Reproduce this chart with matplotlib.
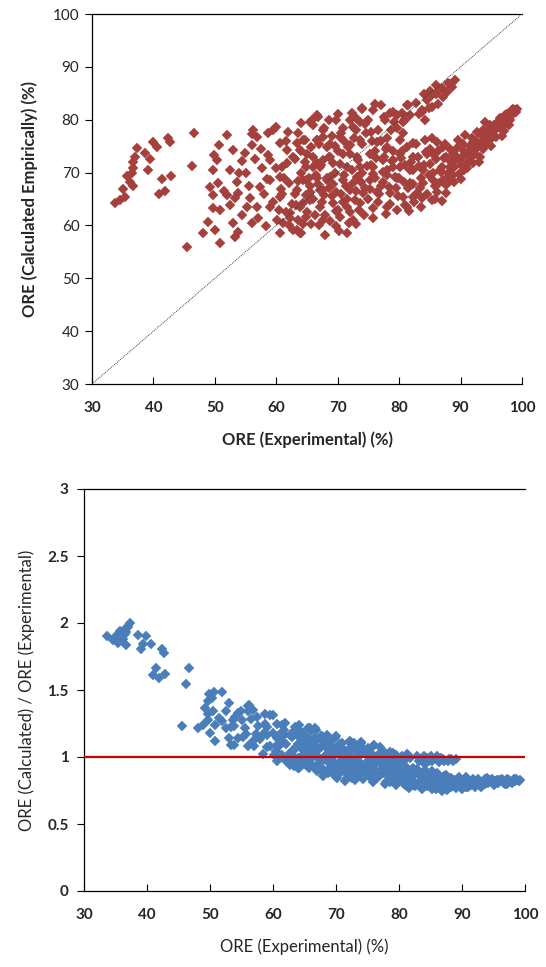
import matplotlib
matplotlib.use("Agg")
import matplotlib.pyplot as plt
import numpy as np

# ORE experimental (%) and ORE calculated empirically (%)
x_exp = [
    33.7, 34.6, 35.4, 35.1, 36.2, 35.7, 36.5, 36.7, 36.7, 37.0, 37.3, 36.7, 38.6, 39.4, 39.1,
    39.9, 40.6, 42.4, 42.7, 41.4, 42.9, 40.9, 41.9, 46.6, 46.2, 45.5,
    51.9, 50.6, 49.8, 50.3, 53.0, 49.7, 50.5, 49.2, 49.7, 53.6, 54.4, 56.0, 56.2, 56.8, 54.9,
    58.7, 60.0, 59.5, 61.9, 60.6, 58.7, 57.6, 59.0, 53.8, 53.3, 52.5, 49.7, 50.8, 48.9, 50.0,
    48.1, 50.8, 53.0, 54.4, 53.3, 53.8, 56.0, 56.8, 55.7, 57.3, 59.0, 60.6, 60.0, 61.7, 62.7,
    63.9, 64.7, 64.1, 65.8, 66.8, 67.6, 66.6, 63.3, 61.7, 60.6, 59.0, 60.1, 58.4, 60.6, 62.7,
    63.9, 62.2, 61.1, 63.9, 65.5, 67.1, 68.2, 64.9, 63.3, 66.0, 67.6, 68.2, 55.2, 51.9,
    66.6, 65.5, 72.3, 73.9, 69.8, 67.7, 70.9, 72.5, 75.5, 78.5, 77.7, 81.4, 83.7, 80.6, 79.6,
    64.4, 66.6, 70.4, 68.7, 72.0, 73.6, 76.4, 78.0, 80.1, 82.3, 84.2, 84.5, 82.3, 80.1, 79.0,
    77.4, 75.3, 73.1, 70.9, 68.7, 66.0, 64.9, 67.1, 69.2, 71.5, 73.6, 75.7, 78.0, 80.1, 82.3,
    83.9, 64.4, 66.6, 68.7, 70.9, 73.1, 75.3, 77.4, 79.6, 81.8, 83.9, 65.5, 67.6, 69.8, 72.0,
    74.1, 76.4, 78.5, 80.6, 82.9, 64.4, 67.1, 69.2, 71.5, 73.6, 75.7, 78.0, 81.2, 64.9, 67.6,
    70.4, 72.5, 69.8, 71.5, 64.1,
    89.1, 88.6, 87.2, 86.7, 85.3, 84.5, 83.7, 85.3, 84.2, 81.2, 81.8, 98.3, 97.2, 96.4, 95.9,
    94.8, 94.0, 93.7, 92.6, 91.8, 90.7, 90.4, 89.6, 89.4, 88.8, 90.7, 91.5, 92.6, 93.7, 95.1,
    92.1, 89.9, 87.7, 87.2, 86.1, 88.3, 86.6, 85.5, 85.0, 88.8, 87.2, 85.5, 86.1, 87.7, 85.3,
    83.4, 82.3, 81.0,
    61.5, 62.5, 63.0, 63.5, 64.0, 65.0, 65.5, 66.0, 66.5, 67.0, 67.5, 68.0, 68.5, 69.0, 69.5,
    70.0, 70.5, 71.0, 71.5, 72.0, 72.5, 73.0, 73.5, 74.0, 74.5, 75.0, 75.5, 76.0, 76.5, 77.0,
    77.5, 78.0, 78.5, 79.0, 79.5, 80.0, 80.5, 81.0, 81.5, 82.0, 82.5, 83.0, 83.5, 84.0, 84.5,
    85.0, 85.5, 86.0, 86.5, 87.0, 87.5, 88.0, 88.5, 89.0, 89.5, 90.0, 90.5, 91.0, 91.5, 92.0,
    92.5, 93.0, 93.5, 94.0, 94.5, 95.0, 95.5, 96.0, 96.5, 97.0, 97.5, 98.0, 98.5, 99.0, 71.0,
    73.0, 75.0, 76.0, 77.0, 78.0, 79.0, 62.0, 63.0, 64.0, 61.0, 60.5, 62.0, 61.0, 65.0, 67.0,
    69.0, 70.0, 72.0, 74.0, 63.5, 61.5, 66.0, 68.5, 70.0, 72.0, 74.0, 76.0, 79.0, 81.0, 86.0,
    87.0, 88.0, 85.0, 84.0,
    88.2, 88.7, 89.3, 89.8, 90.2, 90.6, 91.2, 91.6, 92.1, 92.4, 92.8, 93.2, 93.6, 94.1, 94.4,
    94.9, 95.3, 95.7, 96.1, 96.6, 97.1, 97.5, 97.9, 98.4, 98.8, 99.2, 91.0, 93.0, 95.0, 96.8,
    89.0, 90.0,
    62.3, 63.2, 64.3, 64.8, 65.3, 66.3, 66.8, 67.3, 67.8, 68.3, 68.8, 69.3, 69.8, 70.3, 70.8,
    71.3, 71.8, 72.3, 72.8, 73.3, 73.8, 74.3, 74.8, 75.3, 75.8, 76.3, 76.8, 77.3, 77.8, 78.3,
    78.8, 79.3, 79.8, 80.3, 80.8, 81.3, 81.8, 82.3, 82.8, 83.3, 83.8, 84.3, 84.8, 85.3, 85.8,
    86.3, 86.8, 87.3, 87.8, 88.3,
    63.6, 64.6, 65.6, 66.6, 67.6, 68.6, 69.6, 70.6, 71.6, 72.6, 73.6, 74.6, 75.6, 76.6, 77.6,
    78.6, 79.6, 80.6,
    63.4, 65.7, 68.0, 70.2, 73.0, 75.8, 77.8, 79.6, 81.6, 83.6, 85.8, 87.6, 86.9,
    55.0, 56.5, 57.5, 58.0, 58.5, 59.5, 60.8, 61.2, 57.0, 55.5, 54.0, 52.5, 51.5, 56.0,
    82.8, 83.2, 86.0, 87.8, 88.2, 86.3, 84.8, 80.5, 79.2, 72.9, 75.8, 77.0, 74.5,
]
y_calc = [
    64.2, 64.8, 65.4, 66.9, 68.2, 69.3, 69.9, 70.8, 72.0, 73.0, 74.6, 67.5, 73.7, 72.6, 70.5,
    75.8, 74.9, 76.5, 75.8, 68.8, 69.4, 65.9, 66.5, 77.5, 71.3, 55.9,
    77.1, 75.2, 73.3, 72.4, 74.3, 70.5, 68.0, 67.3, 65.8, 68.3, 72.1, 75.2, 78.0, 76.8, 73.7,
    77.5, 78.7, 78.0, 77.7, 75.6, 73.3, 70.8, 72.4, 66.1, 65.2, 63.9, 63.3, 62.9, 60.7, 59.1,
    58.6, 56.7, 60.5, 62.0, 57.9, 58.8, 60.5, 63.5, 65.2, 67.3, 68.6, 69.2, 70.8, 71.8, 73.0,
    74.3, 76.2, 79.4, 79.9, 80.5, 78.0, 76.2, 75.6, 74.3, 65.4, 63.5, 61.0, 59.8, 58.6, 59.1,
    58.6, 62.3, 60.5, 63.5, 64.8, 66.7, 68.6, 68.6, 66.7, 71.0, 72.4, 74.9, 63.5, 65.8,
    80.9, 79.6, 81.2, 82.2, 79.9, 78.4, 78.4, 78.7, 77.7, 81.3, 79.9, 82.8, 81.5, 79.6, 78.4,
    76.2, 76.2, 76.8, 75.5, 75.2, 76.2, 75.8, 74.9, 76.2, 75.6, 76.2, 73.6, 73.0, 73.6, 72.4,
    72.4, 73.6, 73.0, 73.6, 73.0, 73.0, 71.1, 71.1, 71.8, 71.1, 71.1, 71.1, 70.5, 71.1, 70.5,
    70.5, 68.6, 69.0, 69.2, 68.6, 69.2, 68.6, 68.3, 68.9, 68.0, 68.0, 66.4, 66.7, 66.4, 66.7,
    66.1, 66.4, 66.1, 65.4, 66.1, 64.2, 63.5, 64.2, 63.5, 64.2, 63.3, 63.5, 63.5, 61.6, 61.0,
    61.6, 61.0, 59.8, 58.6, 58.6,
    87.5, 86.2, 84.3, 85.9, 84.7, 83.7, 81.8, 82.5, 79.9, 82.8, 80.9, 81.8, 80.9, 80.3, 79.3,
    79.0, 79.6, 78.0, 77.7, 76.5, 77.1, 75.5, 76.2, 74.6, 73.6, 73.6, 72.7, 74.6, 75.8, 76.8,
    75.8, 72.4, 73.0, 74.9, 75.8, 71.1, 70.5, 73.6, 71.7, 69.6, 68.6, 68.6, 66.4, 67.6, 64.8,
    67.0, 65.4, 63.9,
    62.5, 64.0, 66.0, 61.0, 70.0, 62.5, 67.5, 65.0, 69.5, 60.0, 64.5, 62.0, 67.0, 65.5, 70.0,
    63.0, 66.0, 69.5, 65.0, 62.5, 68.0, 66.5, 63.0, 70.0, 67.0, 65.0, 71.5, 69.0, 64.5, 67.5,
    73.0, 69.5, 64.0, 71.0, 67.0, 69.0, 74.0, 71.5, 67.0, 72.0, 64.5, 73.0, 69.0, 71.5, 66.0,
    74.5, 70.0, 72.5, 68.0, 71.0, 75.5, 70.0, 72.0, 71.0, 73.0, 71.5, 74.0, 73.5, 75.0, 74.0,
    76.0, 75.5, 77.0, 76.5, 78.0, 77.5, 79.0, 78.5, 79.5, 79.0, 81.0, 80.0, 82.0, 81.5, 76.0,
    78.0, 80.0, 74.0, 76.0, 76.5, 74.0, 68.0, 72.5, 74.0, 66.0, 63.0, 60.0, 71.0, 73.5, 75.5,
    77.0, 74.0, 73.5, 75.5, 77.5, 76.0, 79.0, 80.0, 81.0, 80.0, 82.0, 83.0, 81.5, 80.0, 86.5,
    86.0, 87.0, 85.5, 84.8,
    68.5, 70.8, 72.5, 69.8, 73.0, 70.5, 72.0, 74.0, 71.8, 73.5, 75.0, 73.0, 74.5, 75.5, 77.3,
    76.3, 78.0, 76.8, 79.5, 78.2, 77.8, 80.0, 79.0, 80.8, 81.8, 82.0, 70.8, 72.0, 75.0, 77.0,
    68.3, 68.8,
    61.5, 63.8, 60.2, 65.8, 69.0, 62.0, 67.8, 71.5, 65.7, 69.0, 60.8, 67.8, 62.8, 71.7, 64.5,
    67.5, 60.5, 70.5, 64.8, 72.3, 68.2, 62.0, 71.2, 66.8, 69.8, 72.8, 66.0, 70.2, 74.5, 67.2,
    72.2, 69.2, 65.5, 72.8, 68.3, 74.8, 70.5, 67.8, 75.5, 71.2, 65.2, 73.8, 69.5, 76.5, 67.5,
    74.0, 70.2, 72.8, 69.0, 74.5,
    68.5, 72.0, 74.8, 71.8, 76.7, 73.0, 75.0, 77.5, 74.8, 76.5, 79.5, 77.5, 76.0, 78.0, 80.5,
    78.0, 80.8, 77.5,
    59.2, 60.3, 58.2, 59.0, 60.2, 61.5, 62.2, 63.0, 62.8, 63.5, 65.0, 66.2, 64.6,
    70.0, 72.5, 74.5, 66.0, 68.8, 64.5, 66.8, 69.0, 61.5, 67.5, 70.0, 70.5, 66.5, 77.3,
    83.2, 81.0, 84.8, 85.2, 86.8, 83.0, 82.2, 81.2, 79.5, 80.3, 81.8, 82.8, 79.2,
]

x_ticks = [30, 40, 50, 60, 70, 80, 90, 100]
y_ticks_top = [30, 40, 50, 60, 70, 80, 90, 100]
y_ticks_bot = [0, 0.5, 1, 1.5, 2, 2.5, 3]
y_ticks_bot_labels = ["0", "0.5", "1", "1.5", "2", "2.5", "3"]

x_arr = np.array(x_exp)
y_arr = np.array(y_calc)
ratio = y_arr / x_arr

plt.rcParams['font.family'] = ['Lato', 'DejaVu Sans']

W, H = 546, 967
fig = plt.figure(figsize=(W / 100, H / 100), dpi=100)

def rect(l, r, t, b):
    return [l / W, 1 - b / H, (r - l) / W, (b - t) / H]

red = '#A5403D'
blue = '#4A7EBB'
txt = '#262626'
TICK = 11
LAB = 12

# ---------- top chart ----------
ax1 = fig.add_axes(rect(92, 522, 14, 384))
ax1.plot([30, 100], [30, 100], linestyle=(0, (1, 1)), color='#404040', lw=0.7, zorder=3)
ax1.plot(x_arr, y_arr, linestyle='none', marker='D', ms=5.0, mfc=red, mec=red, mew=0.3, zorder=2)
ax1.set_xlim(30, 100)
ax1.set_ylim(30, 100)
ax1.set_xticks(x_ticks)
ax1.set_yticks(y_ticks_top)
ax1.set_xticklabels([str(t) for t in x_ticks], fontweight='bold', fontsize=TICK, color=txt)
ax1.set_yticklabels([str(t) for t in y_ticks_top], fontsize=TICK, color=txt)
ax1.tick_params(axis='x', direction='in', length=5, width=0.8, pad=12)
ax1.tick_params(axis='y', direction='out', length=5, width=0.8, pad=4)
ax1.spines['right'].set_visible(False)
for s in ['left', 'bottom', 'top']:
    ax1.spines[s].set_linewidth(0.9)
ax1.set_xlabel('ORE (Experimental) (%)', fontweight='bold', fontsize=LAB, labelpad=12, color=txt)
ax1.set_ylabel('ORE (Calculated Empirically) (%)', fontweight='bold', fontsize=LAB, labelpad=11, color=txt)

# ---------- bottom chart ----------
ax2 = fig.add_axes(rect(84, 525, 489, 891))
ax2.plot(x_arr, ratio, linestyle='none', marker='D', ms=5.0, mfc=blue, mec=blue, mew=0.3, zorder=2)
ax2.axhline(1, color='#D40000', lw=1.6, zorder=3)
ax2.set_xlim(30, 100)
ax2.set_ylim(0, 3)
ax2.set_xticks(x_ticks)
ax2.set_yticks(y_ticks_bot)
ax2.set_xticklabels([str(t) for t in x_ticks], fontweight='bold', fontsize=TICK, color=txt)
ax2.set_yticklabels(y_ticks_bot_labels, fontweight='bold', fontsize=TICK, color=txt)
ax2.tick_params(axis='x', direction='in', length=5, width=0.8, pad=12)
ax2.tick_params(axis='y', direction='out', length=5, width=0.8, pad=6)
ax2.spines['right'].set_visible(False)
for s in ['left', 'bottom', 'top']:
    ax2.spines[s].set_linewidth(0.9)
ax2.set_xlabel('ORE (Experimental) (%)', fontsize=LAB, labelpad=12, color=txt)
ax2.set_ylabel('ORE (Calculated) / ORE (Experimental)', fontsize=LAB, labelpad=9, color=txt)

fig.savefig('out.png', dpi=100)
